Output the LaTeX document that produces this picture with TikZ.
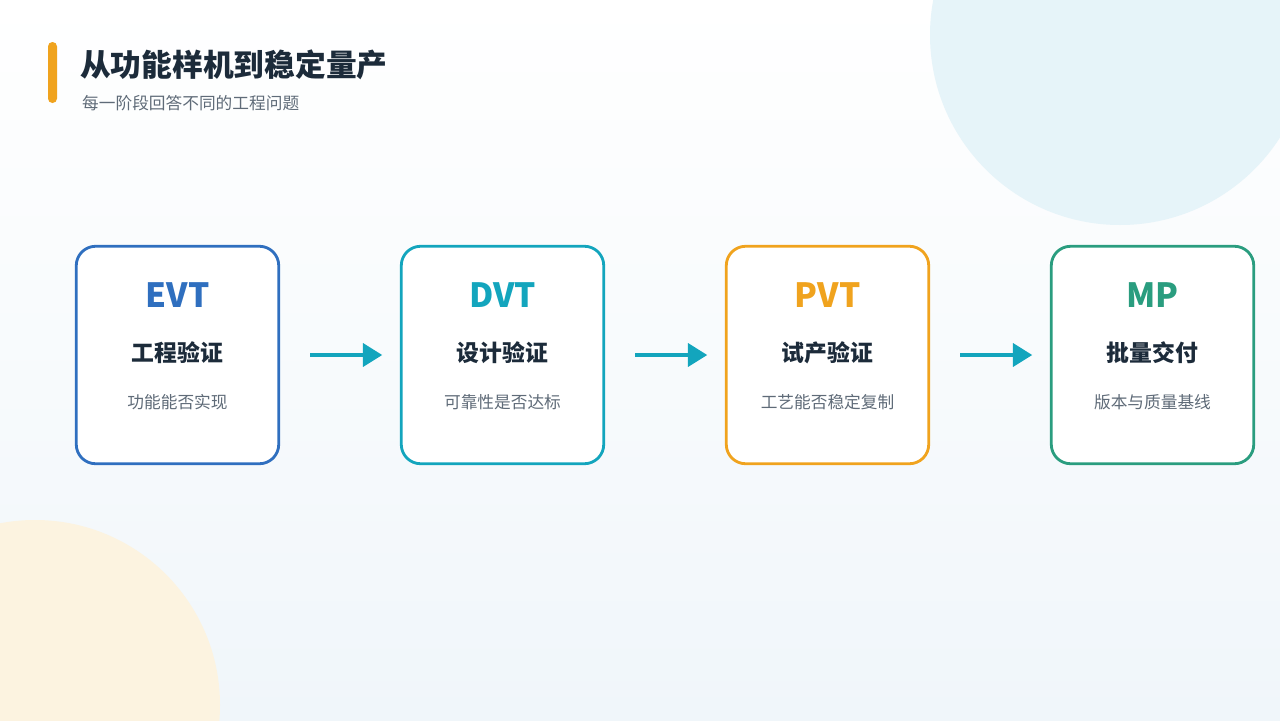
\documentclass[tikz,border=0pt]{standalone}
\usepackage{fontspec}
\setmainfont{Noto Sans CJK SC}
\usetikzlibrary{positioning,arrows.meta}
\definecolor{evtc}{HTML}{2F6FBF}
\definecolor{dvtc}{HTML}{13A5BD}
\definecolor{pvtc}{HTML}{F0A31E}
\definecolor{mpc}{HTML}{2A9D7F}
\definecolor{inkc}{HTML}{1C2B3A}
\definecolor{greyc}{HTML}{5F6B78}
\definecolor{bgend}{HTML}{F0F6FA}
\definecolor{bluedot}{HTML}{E6F4F9}
\definecolor{sanddot}{HTML}{FCF3E0}
\tikzset{
  stagecard/.style={draw=#1, line width=1.6pt, rounded corners=11pt, fill=white,
    minimum width=4.05cm, minimum height=4.35cm},
  stagetag/.style={font=\fontsize{19}{22}\selectfont\bfseries, text=#1},
  stagename/.style={font=\fontsize{13}{16}\selectfont\bfseries, text=inkc},
  stagehint/.style={font=\fontsize{9.5}{12}\selectfont, text=greyc},
  flowarrow/.style={-{Triangle[length=11pt,width=13pt]}, line width=2.3pt, draw=dvtc}
}
\begin{document}
\begin{tikzpicture}[x=0.02cm, y=-0.02cm]
  \useasboundingbox (0,0) rectangle (1280,720);
  \shade[top color=white, bottom color=bgend] (0,0) rectangle (1280,720);
  \begin{scope}
    \clip (0,0) rectangle (1280,720);
    \fill[bluedot] (1120,35) circle (190);
    \fill[sanddot] (35,705) circle (185);
  \end{scope}
  % title
  \fill[pvtc, rounded corners=2.5pt] (48,42) rectangle (57,103);
  \node[anchor=west, font=\fontsize{17.5}{20}\selectfont\bfseries, text=inkc] (title) at (74,65) {从功能样机到稳定量产};
  \node[anchor=west, stagehint] (sub) at (76,103) {每一阶段回答不同的工程问题};
  % cards
  \foreach \i/\c/\col/\nm/\nt in {0/EVT/evtc/工程验证/功能能否实现,
                                  1/DVT/dvtc/设计验证/可靠性是否达标,
                                  2/PVT/pvtc/试产验证/工艺能否稳定复制,
                                  3/MP/mpc/批量交付/版本与质量基线} {
    \node[stagecard=\col] (card\i) at (177.5+325*\i,355) {};
    \node[stagetag=\col] (tag\i) at (177.5+325*\i,295) {\c};
    \node[stagename] (name\i) at (177.5+325*\i,353) {\nm};
    \node[stagehint] (hint\i) at (177.5+325*\i,402) {\nt};
  }
  \foreach \i/\j in {0/1, 1/2, 2/3} {
    \draw[flowarrow] ([xshift=17pt]card\i.east) -- ([xshift=-10pt]card\j.west);
  }
\end{tikzpicture}
\end{document}
